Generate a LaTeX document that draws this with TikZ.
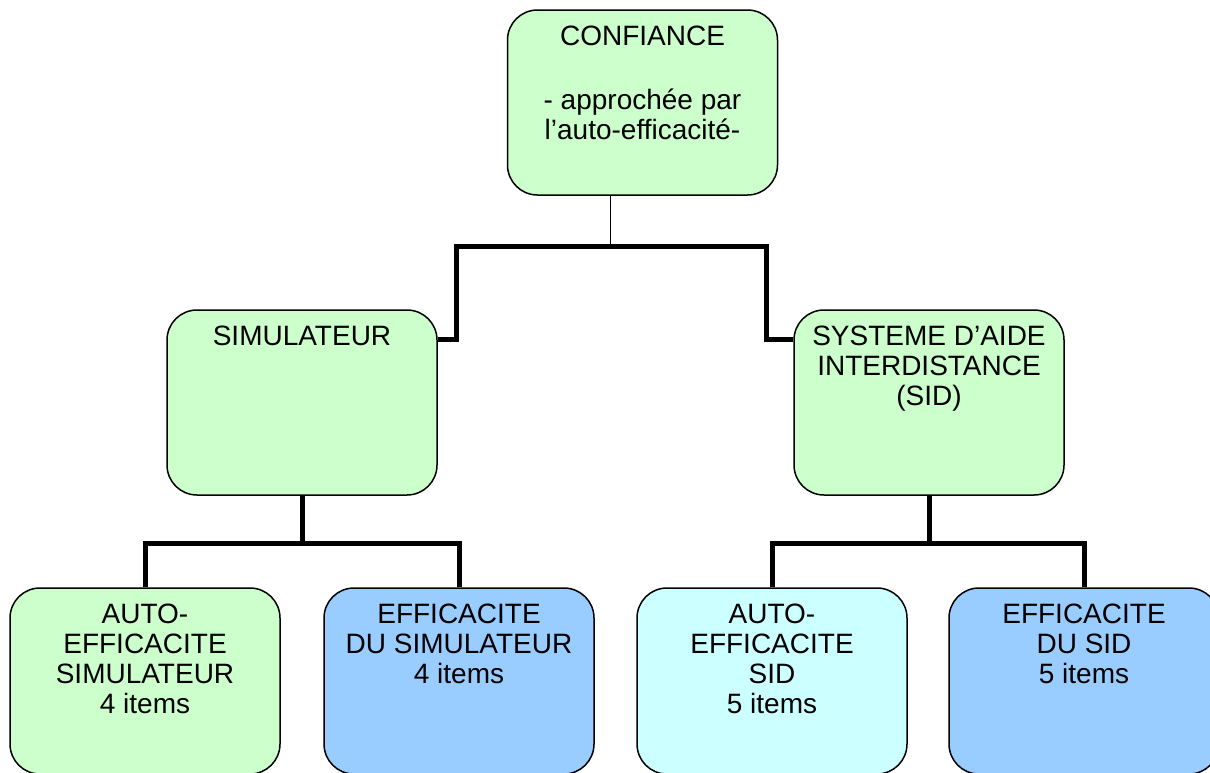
\documentclass[tikz,border=0pt]{standalone}
\usepackage{fontspec}
\setmainfont{Liberation Sans}
\usetikzlibrary{positioning, calc}
\definecolor{palegreen}{HTML}{CCFFCC}
\definecolor{palecyan}{HTML}{CCFFFF}
\definecolor{paleblue}{HTML}{99CCFF}
\tikzset{
factor/.style = {rectangle, rounded corners = 15pt, draw, line width = 0.75pt,
	minimum width = 135pt, minimum height = 92.5pt, inner sep = 0pt},
item/.style = {factor, minimum height = 93pt},
boxtext/.style = {align = center, inner sep = 0pt, outer sep = 0pt,
	font = \fontsize{14pt}{15pt}\selectfont},
branch/.style = {line width = 2.5pt},
stem/.style = {line width = 0.5pt}
}

\begin{document}
\begin{tikzpicture}[x = 0.5pt, y = -0.5pt]

\clip (0, 0) rectangle (1210, 772);
\fill[white] (0, 0) rectangle (1210, 772);

%% Boxes
% Top
\node at (642.5, 102.5) [factor, fill = palegreen] (conf) {};
% Middle
\node at (302, 402.5) [factor, fill = palegreen] (simu) {};
\node at (929, 402.5) [factor, fill = palegreen] (sid) {};
% Bottom
\node at (145, 681) [item, fill = palegreen] (autosimu) {};
\node at (459, 681) [item, fill = paleblue] (effsimu) {};
\node at (772, 681) [item, fill = palecyan] (autosid) {};
\node at (1084, 681) [item, fill = paleblue] (effsid) {};

%% Texts
\node [boxtext, below = 8.5pt of conf.north] (confT)
	{CONFIANCE\\[17pt]- approchée par\\l’auto-efficacité-};
\node [boxtext, below = 8.5pt of simu.north] (simuT) {SIMULATEUR};
\node [boxtext, below = 8.5pt of sid.north] (sidT)
	{SYSTEME D’AIDE\\INTERDISTANCE\\(SID)};
\node [boxtext, below = 8.5pt of autosimu.north] (autosimuT)
	{AUTO-\\EFFICACITE\\SIMULATEUR\\4 items};
\node [boxtext, below = 8.5pt of effsimu.north] (effsimuT)
	{EFFICACITE\\DU SIMULATEUR\\4 items};
\node [boxtext, below = 8.5pt of autosid.north] (autosidT)
	{AUTO-\\EFFICACITE\\SID\\5 items};
\node [boxtext, below = 8.5pt of effsid.north] (effsidT)
	{EFFICACITE\\DU SID\\5 items};

%% Connectors
\coordinate (hub) at (610, 246);
\coordinate (lbend) at (456, 246);
\coordinate (rbend) at (766, 246);
\coordinate (lhub) at (302, 543);
\coordinate (rhub) at (929, 543);

\draw [stem] (conf.south -| hub) -- (hub);
\draw [branch] ($(simu.north east) + (0, 30)$) -| (lbend) -- (rbend)
	|- ($(sid.north west) + (0, 30)$);

\draw [branch] (simu.south) -- (lhub);
\draw [branch] (autosimu.north) |- (lhub) -| (effsimu.north);
\draw [branch] (sid.south) -- (rhub);
\draw [branch] (autosid.north) |- (rhub) -| (effsid.north);

\end{tikzpicture}
\end{document}
